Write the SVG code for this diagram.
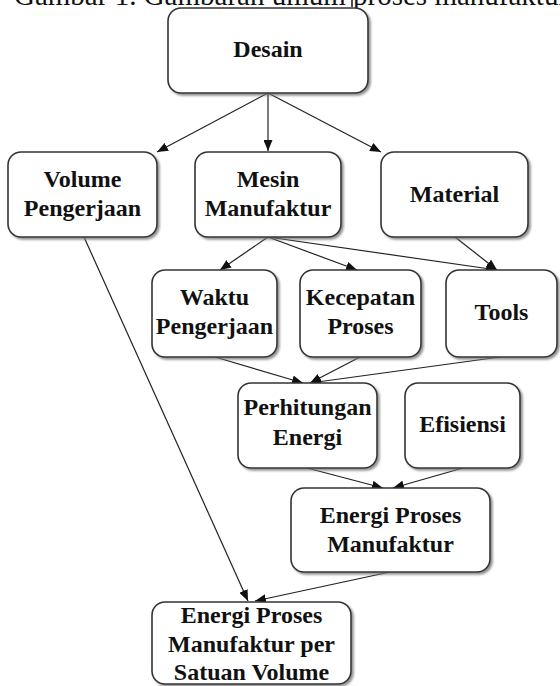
<svg xmlns="http://www.w3.org/2000/svg" width="560" height="686" viewBox="0 0 560 686">
<style>
.box{fill:#fff;stroke:#333;stroke-width:1.6;filter:url(#sh)}
.t{font-family:"Liberation Serif","Times New Roman",serif;font-weight:bold;font-size:24px;fill:#111;text-anchor:middle}
.cap{font-family:"Liberation Serif","Times New Roman",serif;font-size:29px;fill:#111}
.c{stroke:#222;stroke-width:1.2;fill:none;marker-end:url(#ah)}
</style>
<defs>
<filter id="sh" x="-10%" y="-10%" width="130%" height="130%">
<feDropShadow dx="2" dy="2" stdDeviation="1.2" flood-color="#777" flood-opacity="0.8"/>
</filter>
<marker id="ah" markerUnits="userSpaceOnUse" markerWidth="11" markerHeight="9" refX="11" refY="4.5" orient="auto">
<path d="M0,0 L11,4.5 L0,9 z" fill="#111"/>
</marker>
</defs>
<rect width="560" height="686" fill="#fff"/>
<text class="cap" x="14" y="5">Gambar 1. Gambaran umum proses manufaktur</text>
<line x1="352" y1="0" x2="352" y2="7" stroke="#111" stroke-width="1.5"/>
<g id="connectors">
<line class="c" x1="268" y1="93" x2="157" y2="152"/>
<line class="c" x1="268" y1="93" x2="268" y2="151"/>
<line class="c" x1="268" y1="93" x2="381" y2="152"/>
<line class="c" x1="268" y1="237" x2="220" y2="270"/>
<line class="c" x1="268" y1="237" x2="357" y2="270"/>
<line class="c" x1="268" y1="237" x2="497" y2="270"/>
<line class="c" x1="455" y1="237" x2="497" y2="270"/>
<line class="c" x1="215" y1="357" x2="303" y2="383"/>
<line class="c" x1="360" y1="357" x2="310" y2="383"/>
<line class="c" x1="500" y1="357" x2="310" y2="383"/>
<line class="c" x1="84" y1="237" x2="248" y2="601"/>
<line class="c" x1="307" y1="468" x2="383" y2="488"/>
<line class="c" x1="463" y1="468" x2="393" y2="488"/>
<line class="c" x1="390" y1="572" x2="255" y2="601"/>
</g>
<g id="desain"><rect class="box" x="168" y="8" width="200" height="85" rx="13"/><text class="t" x="268" y="57">Desain</text></g>
<g id="volume"><rect class="box" x="8" y="152" width="149" height="85" rx="13"/><text class="t" x="82.5" y="187">Volume</text><text class="t" x="82.5" y="216">Pengerjaan</text></g>
<g id="mesin"><rect class="box" x="195" y="152" width="146" height="85" rx="13"/><text class="t" x="268" y="187">Mesin</text><text class="t" x="268" y="216">Manufaktur</text></g>
<g id="material"><rect class="box" x="381" y="152" width="147" height="85" rx="13"/><text class="t" x="454.5" y="202">Material</text></g>
<g id="waktu"><rect class="box" x="152" y="270" width="125" height="87" rx="13"/><text class="t" x="214.5" y="305">Waktu</text><text class="t" x="214.5" y="334">Pengerjaan</text></g>
<g id="kecepatan"><rect class="box" x="300" y="270" width="121" height="87" rx="13"/><text class="t" x="360.5" y="305">Kecepatan</text><text class="t" x="360.5" y="334">Proses</text></g>
<g id="tools"><rect class="box" x="446" y="270" width="111" height="87" rx="13"/><text class="t" x="501.5" y="320">Tools</text></g>
<g id="perhitungan"><rect class="box" x="238" y="383" width="139" height="85" rx="13"/><text class="t" x="307.5" y="415">Perhitungan</text><text class="t" x="307.5" y="445">Energi</text></g>
<g id="efisiensi"><rect class="box" x="405" y="383" width="115" height="85" rx="13"/><text class="t" x="462.5" y="432">Efisiensi</text></g>
<g id="epm"><rect class="box" x="291" y="488" width="199" height="84" rx="13"/><text class="t" x="390.5" y="523">Energi Proses</text><text class="t" x="390.5" y="552">Manufaktur</text></g>
<g id="epmv"><rect class="box" x="152" y="602" width="199" height="82" rx="13"/><text class="t" x="251.5" y="623">Energi Proses</text><text class="t" x="251.5" y="652">Manufaktur per</text><text class="t" x="251.5" y="680">Satuan Volume</text></g>
</svg>
